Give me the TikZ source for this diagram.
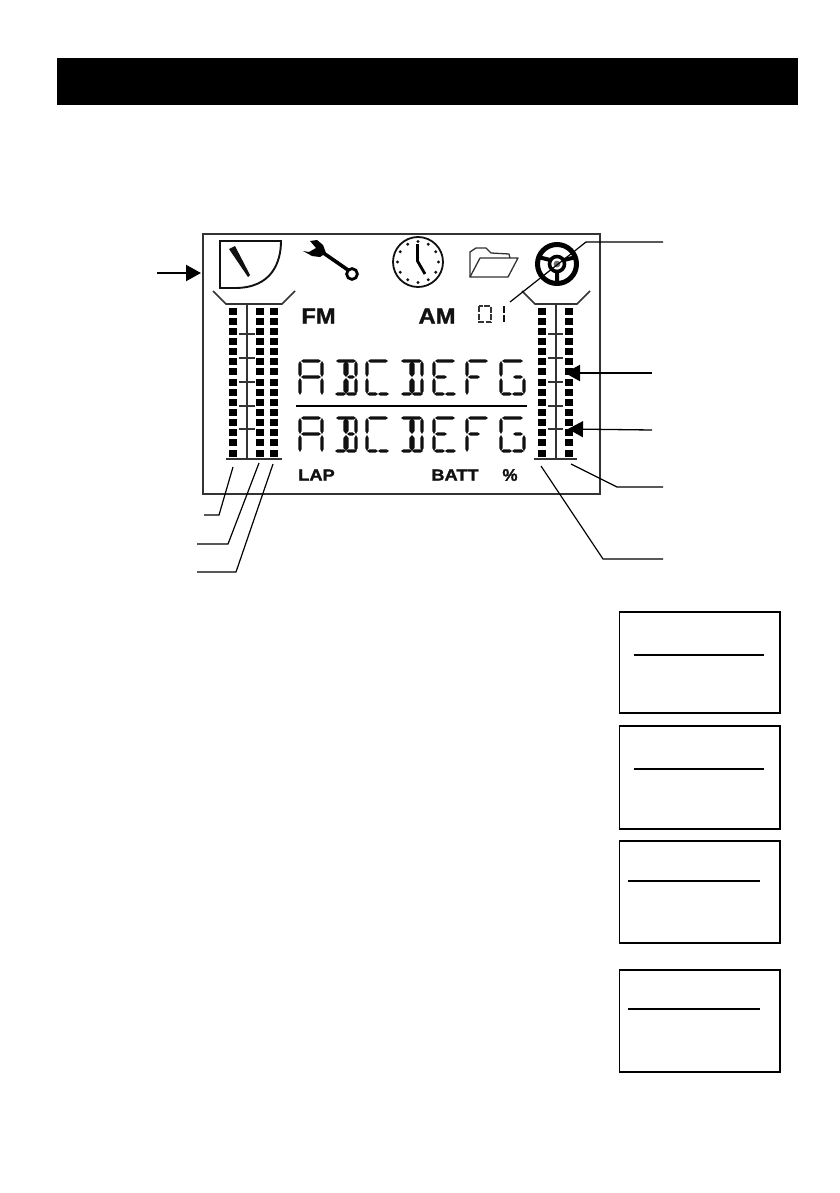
\documentclass[tikz,border=0pt]{standalone}
\usepackage{fontspec}
\setmainfont{Liberation Sans}
\usetikzlibrary{arrows.meta}
\definecolor{lcdgrey}{HTML}{333333}
\definecolor{seggrey}{HTML}{111111}
\tikzset{
  lcdframe/.style={draw=lcdgrey,line width=2.4pt,fill=white},
  funnel/.style={draw=lcdgrey,line width=1.7pt},
  pole/.style={draw=lcdgrey,line width=1.9pt},
  ticklet/.style={draw=lcdgrey,line width=1.2pt},
  leader/.style={draw=black,line width=1.2pt},
  arrowthick/.style={draw=black,line width=2.2pt,-{Triangle[length=15pt,width=16pt]}},
  arrowthin/.style={draw=black,line width=1.3pt,-{Triangle[length=15pt,width=16pt]}},
  sidebox/.style={draw=black,line width=1.8pt,fill=white},
  rulethick/.style={draw=black,line width=2pt},
  rulethin/.style={draw=black,line width=1.2pt},
  lcdlabel/.style={text=seggrey,inner sep=0pt,anchor=center},
}
% tapered LCD segments, local coordinates
\newcommand\lcdh[3]{\fill[seggrey] (#1,#3) -- (#1+2.5,#3-1.7) -- (#2-2.5,#3-1.7) -- (#2,#3) -- (#2-2.5,#3+1.7) -- (#1+2.5,#3+1.7) -- cycle;}
\newcommand\lcdv[3]{\fill[seggrey] (#1,#2) -- (#1-1.7,#2+3) -- (#1-1.7,#3-3) -- (#1,#3) -- (#1+1.7,#3-3) -- (#1+1.7,#2+3) -- cycle;}
\newcommand\lcdstem[3]{\fill[seggrey] (#1,#2) -- (#1-2.6,#2+3) -- (#1-2.6,#3-3) -- (#1,#3) -- (#1+2.6,#3-3) -- (#1+2.6,#2+3) -- cycle;}
\newcommand\segA{\lcdh{1}{21}{1}\lcdv{0}{1}{17}\lcdv{22}{1}{17}\lcdh{1}{21}{17}\lcdv{0}{18}{35}\lcdv{22}{18}{35}}
\newcommand\segB{\lcdh{1}{21}{1}\lcdstem{11}{1}{17}\lcdstem{11}{18}{34}\lcdv{21}{1}{17}\lcdv{21}{18}{34}\lcdh{12}{20}{17}\lcdh{0}{11}{34}\lcdh{11}{22}{34}}
\newcommand\segC{\lcdh{1}{21}{1}\lcdv{0}{1}{17}\lcdv{0}{18}{34}\lcdh{0}{11}{34}\lcdh{11}{22}{34}}
\newcommand\segD{\lcdh{0}{21}{1}\lcdstem{11}{1}{17}\lcdstem{11}{18}{34}\lcdv{21}{1}{17}\lcdv{21}{18}{34}\lcdh{0}{11}{34}\lcdh{11}{22}{34}}
\newcommand\segE{\lcdh{1}{21}{1}\lcdv{0}{1}{17}\lcdv{0}{18}{34}\lcdh{1}{13}{17}\lcdh{0}{11}{34}\lcdh{11}{22}{34}}
\newcommand\segF{\lcdh{1}{21}{1}\lcdv{0}{1}{17}\lcdv{0}{18}{35}\lcdh{1}{13}{17}}
\newcommand\segG{\lcdh{1}{22}{1}\lcdv{0}{1}{17}\lcdv{0}{18}{34}\lcdh{12}{22}{17}\lcdv{23}{18}{34}\lcdh{0}{11}{34}\lcdh{11}{23}{34}}
\newcommand\segrow[1]{%
  \begin{scope}[shift={(300,#1)}]\segA\end{scope}
  \begin{scope}[shift={(335,#1)}]\segB\end{scope}
  \begin{scope}[shift={(367,#1)}]\segC\end{scope}
  \begin{scope}[shift={(401,#1)}]\segD\end{scope}
  \begin{scope}[shift={(434,#1)}]\segE\end{scope}
  \begin{scope}[shift={(467,#1)}]\segF\end{scope}
  \begin{scope}[shift={(501,#1)}]\segG\end{scope}}
\begin{document}
\begin{tikzpicture}[x=1pt,y=-1pt]
\useasboundingbox (0,0) rectangle (839,1193);
\fill[white] (0,0) rectangle (839,1193);
% header band
\fill[black] (57,58) rectangle (798,105);
% LCD frame
\path[lcdframe] (203,234) rectangle (600,494);
% meter
\draw[line width=1.9pt,draw=seggrey] (220,241) -- (281,241) .. controls (281,262) and (272,288) .. (235,288) -- (220,288) -- cycle;
\fill[seggrey] (229,249) -- (235,246) -- (250,275) -- (248,277) -- cycle;
% wrench
\fill[black] (303,251) -- (309,252) -- (316,248) -- (310,241) -- (317,240) -- (323,245) -- (326,253) -- (320,257) -- (312,256) -- cycle;
\draw[black,line width=3.6pt] (322,252) -- (348,270);
\draw[black,line width=2.8pt,fill=white] (352,274) circle (5.4);
% clock
\draw[seggrey,line width=1.8pt] (418,262) circle (25);
\foreach \a in {0,30,...,330} \fill[seggrey] (418,262) ++(\a:20.5) circle (1.6);
\draw[black,line width=2.8pt] (417.5,244) -- (417.5,261) -- (425,274);
% folder
\draw[lcdgrey,line width=1.3pt,line join=round] (470,277) -- (470,252) -- (476,248) -- (486,248) -- (491,253) -- (509,254) -- (510,258);
\draw[lcdgrey,line width=1.3pt,line join=round] (470,277) -- (480,258) -- (518,258) -- (508,277) -- cycle;
% steering wheel
\draw[black,line width=5pt] (557,264) circle (19.5);
\draw[black,line width=3.6pt] (557,264) circle (7.5);
\fill[lcdgrey!70] (557,264) circle (3.4);
\draw[black,line width=4pt] (557,272) -- (557,284) (550,260) -- (538,257) (564,260) -- (576,257);
% funnels
\draw[funnel] (213,291) -- (226,304) -- (282,304) -- (295,291);
\draw[funnel] (522,291) -- (535,304) -- (577,304) -- (590,291);
% poles, base lines
\draw[pole] (247,304) -- (247,458);
\draw[pole] (556,304) -- (556,458);
\draw[pole] (226,459) -- (282,459);
\draw[pole] (534,459) -- (577,459);
% ticks
\foreach \y in {334,358,382,406,429} {
  \draw[ticklet] (239,\y) -- (255,\y);
  \draw[ticklet] (548,\y) -- (563,\y);
}
% dot columns
\foreach \x in {233,260,274,542,569}
  \foreach \n in {0,...,14}
    \fill[black] (\x-3.7,311+\n*10.15-3.5) rectangle (\x+3.7,311+\n*10.15+3.5);
% labels
\node[lcdlabel,font=\bfseries\fontsize{22}{22}\addfontfeature{FakeBold=1.4},xscale=1.08] (fm) at (318.5,316) {FM};
\node[lcdlabel,font=\bfseries\fontsize{22}{22}\addfontfeature{FakeBold=1.4},xscale=1.08] (am) at (437,316) {AM};
\node[lcdlabel,font=\bfseries\fontsize{16}{16}\addfontfeature{FakeBold=1.4},xscale=1.14] (lap) at (316.5,475) {LAP};
\node[lcdlabel,font=\bfseries\fontsize{16}{16}\addfontfeature{FakeBold=1.4},xscale=1.14] (batt) at (455,475) {BATT};
\node[lcdlabel,font=\bfseries\fontsize{17}{17}\addfontfeature{FakeBold=1.4}] (pct) at (510,475) {\%};
% small 01
\draw[lcdgrey,line width=1.5pt,dash pattern=on 6pt off 1.5pt] (479,306) rectangle (491,322);
\draw[seggrey,line width=2.2pt] (504,306) -- (504,312.5) (504,315) -- (504,322);
% segment text rows
\segrow{360}
\segrow{417}
\draw[black,line width=2.4pt] (296,406) -- (527,406);
% connector end points
\coordinate (meterFree) at (157,273);
\coordinate (meterTip) at (201,273);
\coordinate (a1free) at (652,373);
\coordinate (a1tip) at (565,373);
\coordinate (a2free) at (652,430);
\coordinate (a2tip) at (568,429);
\draw[arrowthick] (meterFree) -- (meterTip);
\draw[arrowthick] (a1free) -- (a1tip);
\draw[arrowthin] (a2free) -- (a2tip);
\coordinate (wfree) at (663,242); \coordinate (wbend) at (586,242); \coordinate (wend) at (510,302);
\draw[leader] (wfree) -- (wbend) -- (wend);
\coordinate (rAfree) at (663,487); \coordinate (rAbend) at (617,487); \coordinate (rAend) at (571,464);
\draw[leader] (rAfree) -- (rAbend) -- (rAend);
\coordinate (rBfree) at (663,559); \coordinate (rBbend) at (603,559); \coordinate (rBend) at (541,466);
\draw[leader] (rBfree) -- (rBbend) -- (rBend);
\coordinate (lAfree) at (204,515); \coordinate (lAbend) at (219,515); \coordinate (lAend) at (233,467);
\draw[leader] (lAfree) -- (lAbend) -- (lAend);
\coordinate (lBfree) at (197,544); \coordinate (lBbend) at (228,544); \coordinate (lBend) at (259,463);
\draw[leader] (lBfree) -- (lBbend) -- (lBend);
\coordinate (lCfree) at (197,572); \coordinate (lCbend) at (236,572); \coordinate (lCend) at (273,464);
\draw[leader] (lCfree) -- (lCbend) -- (lCend);
% side boxes
\path[sidebox] (619.5,612) rectangle (780,713);
\draw[rulethick] (634,655) -- (764,655);
\path[sidebox] (619.5,726) rectangle (780,829);
\draw[rulethick] (634,769) -- (764,769);
\path[sidebox] (619.5,841) rectangle (780,943);
\draw[rulethin] (628,881) -- (760,881);
\path[sidebox] (619.5,970) rectangle (780,1072);
\draw[rulethick] (628,1009) -- (760,1009);
\end{tikzpicture}
\end{document}
